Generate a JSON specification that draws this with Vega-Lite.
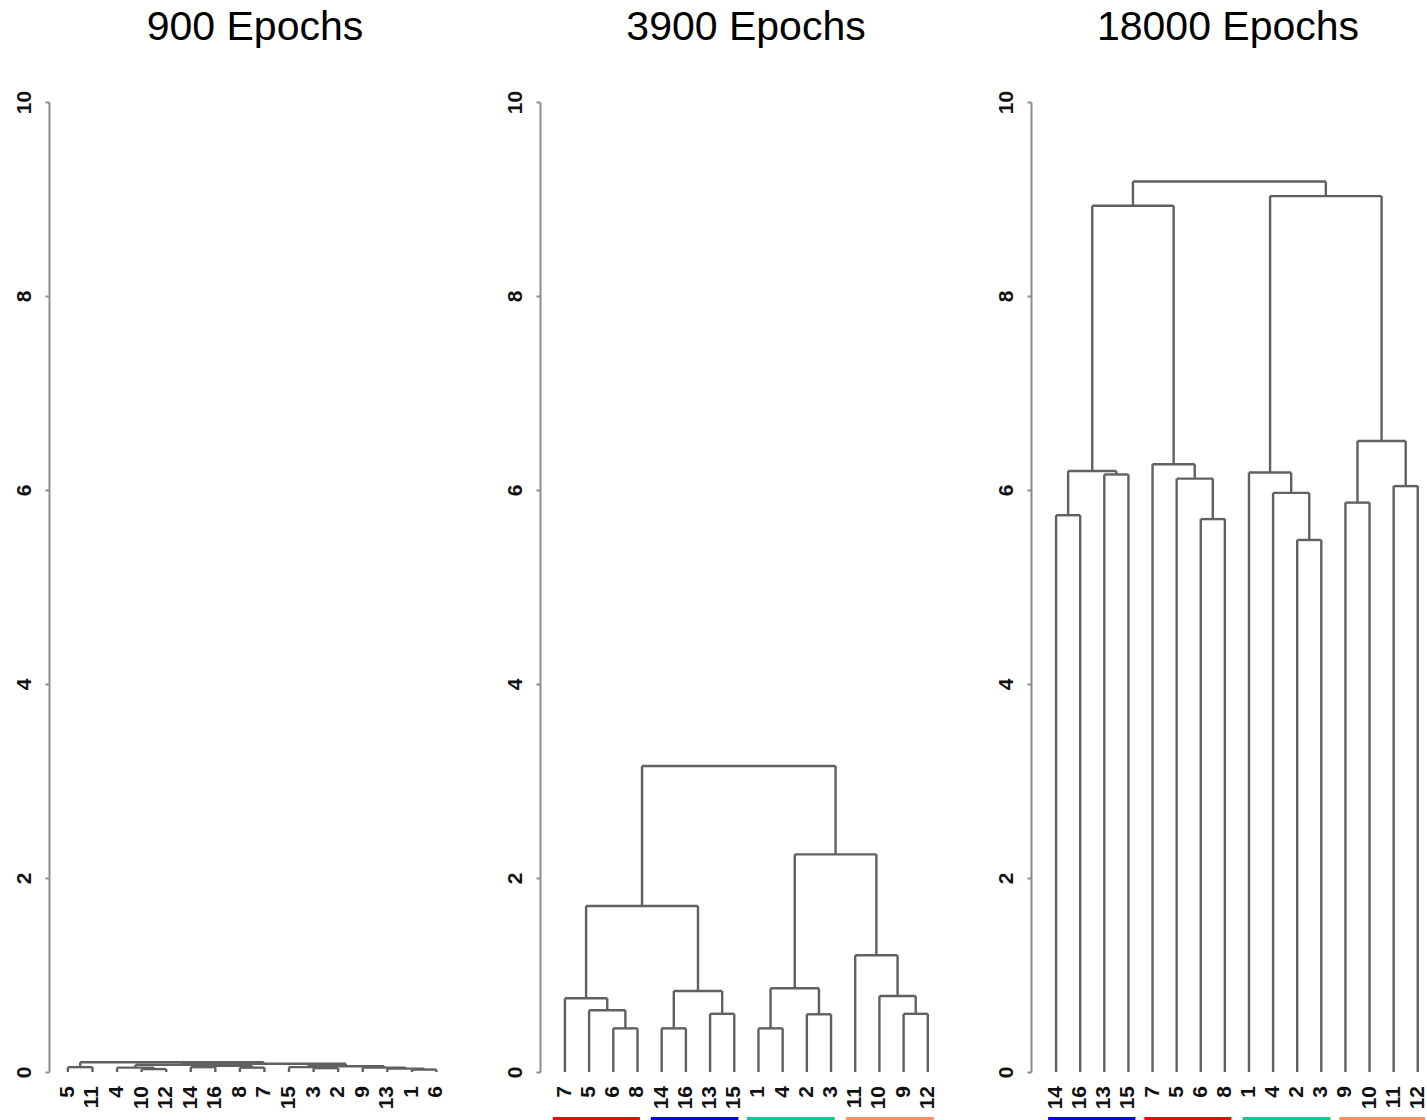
{
  "$schema": "https://vega.github.io/schema/vega-lite/v6.json",
  "background": "white",
  "padding": {"left": 5, "top": 7, "right": 0, "bottom": 0},
  "spacing": 35,
  "config": {
    "view": {"stroke": null},
    "font": "Liberation Sans",
    "axis": {"labelFont": "Liberation Sans"}
  },
  "datasets": {
    "merges": [
      {"panel": 1, "xl": 1, "xr": 2, "hl": 0, "hr": 0, "h": 0.05},
      {"panel": 1, "xl": 4, "xr": 5, "hl": 0, "hr": 0, "h": 0.03},
      {"panel": 1, "xl": 3, "xr": 4.5, "hl": 0, "hr": 0.03, "h": 0.045},
      {"panel": 1, "xl": 6, "xr": 7, "hl": 0, "hr": 0, "h": 0.05},
      {"panel": 1, "xl": 8, "xr": 9, "hl": 0, "hr": 0, "h": 0.045},
      {"panel": 1, "xl": 6.5, "xr": 8.5, "hl": 0.05, "hr": 0.045, "h": 0.065},
      {"panel": 1, "xl": 3.75, "xr": 7.5, "hl": 0.045, "hr": 0.065, "h": 0.075},
      {"panel": 1, "xl": 11, "xr": 12, "hl": 0, "hr": 0, "h": 0.04},
      {"panel": 1, "xl": 10, "xr": 11.5, "hl": 0, "hr": 0.04, "h": 0.05},
      {"panel": 1, "xl": 15, "xr": 16, "hl": 0, "hr": 0, "h": 0.025},
      {"panel": 1, "xl": 14, "xr": 15.5, "hl": 0, "hr": 0.025, "h": 0.035},
      {"panel": 1, "xl": 13, "xr": 14.75, "hl": 0, "hr": 0.035, "h": 0.045},
      {"panel": 1, "xl": 10.75, "xr": 13.875, "hl": 0.05, "hr": 0.045, "h": 0.06},
      {"panel": 1, "xl": 5.625, "xr": 12.3125, "hl": 0.075, "hr": 0.06, "h": 0.085},
      {"panel": 1, "xl": 1.5, "xr": 8.96875, "hl": 0.05, "hr": 0.085, "h": 0.1},

      {"panel": 2, "xl": 3, "xr": 4, "hl": 0, "hr": 0, "h": 0.45},
      {"panel": 2, "xl": 2, "xr": 3.5, "hl": 0, "hr": 0.45, "h": 0.636},
      {"panel": 2, "xl": 1, "xr": 2.75, "hl": 0, "hr": 0.636, "h": 0.76},
      {"panel": 2, "xl": 5, "xr": 6, "hl": 0, "hr": 0, "h": 0.45},
      {"panel": 2, "xl": 7, "xr": 8, "hl": 0, "hr": 0, "h": 0.6},
      {"panel": 2, "xl": 5.5, "xr": 7.5, "hl": 0.45, "hr": 0.6, "h": 0.835},
      {"panel": 2, "xl": 1.875, "xr": 6.5, "hl": 0.76, "hr": 0.835, "h": 1.711},
      {"panel": 2, "xl": 9, "xr": 10, "hl": 0, "hr": 0, "h": 0.45},
      {"panel": 2, "xl": 11, "xr": 12, "hl": 0, "hr": 0, "h": 0.595},
      {"panel": 2, "xl": 9.5, "xr": 11.5, "hl": 0.45, "hr": 0.595, "h": 0.863},
      {"panel": 2, "xl": 15, "xr": 16, "hl": 0, "hr": 0, "h": 0.6},
      {"panel": 2, "xl": 14, "xr": 15.5, "hl": 0, "hr": 0.6, "h": 0.784},
      {"panel": 2, "xl": 13, "xr": 14.75, "hl": 0, "hr": 0.784, "h": 1.203},
      {"panel": 2, "xl": 10.5, "xr": 13.875, "hl": 0.863, "hr": 1.203, "h": 2.244},
      {"panel": 2, "xl": 4.1875, "xr": 12.1875, "hl": 1.711, "hr": 2.244, "h": 3.155},

      {"panel": 3, "xl": 1, "xr": 2, "hl": 0, "hr": 0, "h": 5.74},
      {"panel": 3, "xl": 3, "xr": 4, "hl": 0, "hr": 0, "h": 6.16},
      {"panel": 3, "xl": 1.5, "xr": 3.5, "hl": 5.74, "hr": 6.16, "h": 6.196},
      {"panel": 3, "xl": 7, "xr": 8, "hl": 0, "hr": 0, "h": 5.7},
      {"panel": 3, "xl": 6, "xr": 7.5, "hl": 0, "hr": 5.7, "h": 6.117},
      {"panel": 3, "xl": 5, "xr": 6.75, "hl": 0, "hr": 6.117, "h": 6.265},
      {"panel": 3, "xl": 2.5, "xr": 5.875, "hl": 6.196, "hr": 6.265, "h": 8.93},
      {"panel": 3, "xl": 11, "xr": 12, "hl": 0, "hr": 0, "h": 5.485},
      {"panel": 3, "xl": 10, "xr": 11.5, "hl": 0, "hr": 5.485, "h": 5.97},
      {"panel": 3, "xl": 9, "xr": 10.75, "hl": 0, "hr": 5.97, "h": 6.18},
      {"panel": 3, "xl": 13, "xr": 14, "hl": 0, "hr": 0, "h": 5.87},
      {"panel": 3, "xl": 15, "xr": 16, "hl": 0, "hr": 0, "h": 6.04},
      {"panel": 3, "xl": 13.5, "xr": 15.5, "hl": 5.87, "hr": 6.04, "h": 6.505},
      {"panel": 3, "xl": 9.875, "xr": 14.5, "hl": 6.18, "hr": 6.505, "h": 9.03},
      {"panel": 3, "xl": 4.1875, "xr": 12.1875, "hl": 8.93, "hr": 9.03, "h": 9.18}
    ],
    "leaves": [
      {"panel": 1, "pos": 1, "leaf": "5"}, {"panel": 1, "pos": 2, "leaf": "11"},
      {"panel": 1, "pos": 3, "leaf": "4"}, {"panel": 1, "pos": 4, "leaf": "10"},
      {"panel": 1, "pos": 5, "leaf": "12"}, {"panel": 1, "pos": 6, "leaf": "14"},
      {"panel": 1, "pos": 7, "leaf": "16"}, {"panel": 1, "pos": 8, "leaf": "8"},
      {"panel": 1, "pos": 9, "leaf": "7"}, {"panel": 1, "pos": 10, "leaf": "15"},
      {"panel": 1, "pos": 11, "leaf": "3"}, {"panel": 1, "pos": 12, "leaf": "2"},
      {"panel": 1, "pos": 13, "leaf": "9"}, {"panel": 1, "pos": 14, "leaf": "13"},
      {"panel": 1, "pos": 15, "leaf": "1"}, {"panel": 1, "pos": 16, "leaf": "6"},

      {"panel": 2, "pos": 1, "leaf": "7"}, {"panel": 2, "pos": 2, "leaf": "5"},
      {"panel": 2, "pos": 3, "leaf": "6"}, {"panel": 2, "pos": 4, "leaf": "8"},
      {"panel": 2, "pos": 5, "leaf": "14"}, {"panel": 2, "pos": 6, "leaf": "16"},
      {"panel": 2, "pos": 7, "leaf": "13"}, {"panel": 2, "pos": 8, "leaf": "15"},
      {"panel": 2, "pos": 9, "leaf": "1"}, {"panel": 2, "pos": 10, "leaf": "4"},
      {"panel": 2, "pos": 11, "leaf": "2"}, {"panel": 2, "pos": 12, "leaf": "3"},
      {"panel": 2, "pos": 13, "leaf": "11"}, {"panel": 2, "pos": 14, "leaf": "10"},
      {"panel": 2, "pos": 15, "leaf": "9"}, {"panel": 2, "pos": 16, "leaf": "12"},

      {"panel": 3, "pos": 1, "leaf": "14"}, {"panel": 3, "pos": 2, "leaf": "16"},
      {"panel": 3, "pos": 3, "leaf": "13"}, {"panel": 3, "pos": 4, "leaf": "15"},
      {"panel": 3, "pos": 5, "leaf": "7"}, {"panel": 3, "pos": 6, "leaf": "5"},
      {"panel": 3, "pos": 7, "leaf": "6"}, {"panel": 3, "pos": 8, "leaf": "8"},
      {"panel": 3, "pos": 9, "leaf": "1"}, {"panel": 3, "pos": 10, "leaf": "4"},
      {"panel": 3, "pos": 11, "leaf": "2"}, {"panel": 3, "pos": 12, "leaf": "3"},
      {"panel": 3, "pos": 13, "leaf": "9"}, {"panel": 3, "pos": 14, "leaf": "10"},
      {"panel": 3, "pos": 15, "leaf": "11"}, {"panel": 3, "pos": 16, "leaf": "12"}
    ],
    "groups": [
      {"panel": 2, "start": 0.5, "end": 4.1, "cluster": "5-8"},
      {"panel": 2, "start": 4.55, "end": 8.17, "cluster": "13-16"},
      {"panel": 2, "start": 8.52, "end": 12.15, "cluster": "1-4"},
      {"panel": 2, "start": 12.62, "end": 16.25, "cluster": "9-12"},
      {"panel": 3, "start": 0.67, "end": 4.29, "cluster": "13-16"},
      {"panel": 3, "start": 4.66, "end": 8.27, "cluster": "5-8"},
      {"panel": 3, "start": 8.73, "end": 12.38, "cluster": "1-4"},
      {"panel": 3, "start": 12.75, "end": 16.3, "cluster": "9-12"}
    ]
  },
  "hconcat": [
    {
      "width": 412, "height": 970,
      "title": {"text": "900 Epochs", "fontSize": 41, "font": "Liberation Sans", "fontWeight": "normal", "anchor": "middle", "frame": "group", "baseline": "alphabetic", "offset": 9, "color": "black"},
      "layer": [
        {
          "data": {"name": "merges"}, "transform": [{"filter": "datum.panel == 1"}],
          "mark": {"type": "rule", "color": "#606060", "strokeWidth": 2.4},
          "encoding": {
            "x": {"field": "xl", "type": "quantitative", "scale": {"domain": [0.23, 17], "nice": false, "zero": false}, "axis": null},
            "x2": {"field": "xr"},
            "y": {"field": "h", "type": "quantitative", "scale": {"domain": [0, 10], "nice": false},
              "axis": {"values": [0, 2, 4, 6, 8, 10], "format": "d", "grid": false, "title": null, "domainColor": "#8c8c8c", "domainWidth": 2, "tickColor": "#8c8c8c", "tickWidth": 2, "tickSize": 4, "labelFontSize": 21, "labelFontWeight": "bold", "labelColor": "#111", "labelAngle": -90, "labelAlign": "center", "labelBaseline": "alphabetic", "labelPadding": 15, "minExtent": 44, "maxExtent": 44}}
          }
        },
        {
          "data": {"name": "merges"}, "transform": [{"filter": "datum.panel == 1"}],
          "mark": {"type": "rule", "color": "#606060", "strokeWidth": 2.4},
          "encoding": {"x": {"field": "xl", "type": "quantitative"}, "y": {"field": "hl", "type": "quantitative"}, "y2": {"field": "h"}}
        },
        {
          "data": {"name": "merges"}, "transform": [{"filter": "datum.panel == 1"}],
          "mark": {"type": "rule", "color": "#606060", "strokeWidth": 2.4},
          "encoding": {"x": {"field": "xr", "type": "quantitative"}, "y": {"field": "hr", "type": "quantitative"}, "y2": {"field": "h"}}
        },
        {
          "data": {"name": "leaves"}, "transform": [{"filter": "datum.panel == 1"}],
          "mark": {"type": "text", "angle": 270, "align": "right", "baseline": "middle", "dx": -14, "fontSize": 21, "fontWeight": "bold", "font": "Liberation Sans", "color": "#111"},
          "encoding": {"x": {"field": "pos", "type": "quantitative"}, "y": {"datum": 0, "type": "quantitative"}, "text": {"field": "leaf"}}
        }
      ]
    },
    {
      "width": 412, "height": 970,
      "title": {"text": "3900 Epochs", "fontSize": 41, "font": "Liberation Sans", "fontWeight": "normal", "anchor": "middle", "frame": "group", "baseline": "alphabetic", "offset": 9, "color": "black"},
      "layer": [
        {
          "data": {"name": "merges"}, "transform": [{"filter": "datum.panel == 2"}],
          "mark": {"type": "rule", "color": "#606060", "strokeWidth": 2.4},
          "encoding": {
            "x": {"field": "xl", "type": "quantitative", "scale": {"domain": [-0.03, 17], "nice": false, "zero": false}, "axis": null},
            "x2": {"field": "xr"},
            "y": {"field": "h", "type": "quantitative", "scale": {"domain": [0, 10], "nice": false},
              "axis": {"values": [0, 2, 4, 6, 8, 10], "format": "d", "grid": false, "title": null, "domainColor": "#8c8c8c", "domainWidth": 2, "tickColor": "#8c8c8c", "tickWidth": 2, "tickSize": 4, "labelFontSize": 21, "labelFontWeight": "bold", "labelColor": "#111", "labelAngle": -90, "labelAlign": "center", "labelBaseline": "alphabetic", "labelPadding": 15, "minExtent": 44, "maxExtent": 44}}
          }
        },
        {
          "data": {"name": "merges"}, "transform": [{"filter": "datum.panel == 2"}],
          "mark": {"type": "rule", "color": "#606060", "strokeWidth": 2.4},
          "encoding": {"x": {"field": "xl", "type": "quantitative"}, "y": {"field": "hl", "type": "quantitative"}, "y2": {"field": "h"}}
        },
        {
          "data": {"name": "merges"}, "transform": [{"filter": "datum.panel == 2"}],
          "mark": {"type": "rule", "color": "#606060", "strokeWidth": 2.4},
          "encoding": {"x": {"field": "xr", "type": "quantitative"}, "y": {"field": "hr", "type": "quantitative"}, "y2": {"field": "h"}}
        },
        {
          "data": {"name": "leaves"}, "transform": [{"filter": "datum.panel == 2"}],
          "mark": {"type": "text", "angle": 270, "align": "right", "baseline": "middle", "dx": -14, "fontSize": 21, "fontWeight": "bold", "font": "Liberation Sans", "color": "#111"},
          "encoding": {"x": {"field": "pos", "type": "quantitative"}, "y": {"datum": 0, "type": "quantitative"}, "text": {"field": "leaf"}}
        },
        {
          "data": {"name": "groups"}, "transform": [{"filter": "datum.panel == 2"}],
          "mark": {"type": "rect"},
          "encoding": {
            "x": {"field": "start", "type": "quantitative"}, "x2": {"field": "end"},
            "y": {"datum": -0.465, "type": "quantitative"}, "y2": {"datum": -0.505},
            "color": {"field": "cluster", "type": "nominal", "scale": {"domain": ["1-4", "5-8", "9-12", "13-16"], "range": ["#17c597", "#ff0000", "#fc9060", "#0000ff"]}, "legend": null}
          }
        }
      ]
    },
    {
      "width": 394, "height": 970,
      "title": {"text": "18000 Epochs", "fontSize": 41, "font": "Liberation Sans", "fontWeight": "normal", "anchor": "middle", "frame": "group", "baseline": "alphabetic", "offset": 9, "color": "black"},
      "layer": [
        {
          "data": {"name": "merges"}, "transform": [{"filter": "datum.panel == 3"}],
          "mark": {"type": "rule", "color": "#606060", "strokeWidth": 2.4},
          "encoding": {
            "x": {"field": "xl", "type": "quantitative", "scale": {"domain": [-0.04, 16.3], "nice": false, "zero": false}, "axis": null},
            "x2": {"field": "xr"},
            "y": {"field": "h", "type": "quantitative", "scale": {"domain": [0, 10], "nice": false},
              "axis": {"values": [0, 2, 4, 6, 8, 10], "format": "d", "grid": false, "title": null, "domainColor": "#8c8c8c", "domainWidth": 2, "tickColor": "#8c8c8c", "tickWidth": 2, "tickSize": 4, "labelFontSize": 21, "labelFontWeight": "bold", "labelColor": "#111", "labelAngle": -90, "labelAlign": "center", "labelBaseline": "alphabetic", "labelPadding": 15, "minExtent": 44, "maxExtent": 44}}
          }
        },
        {
          "data": {"name": "merges"}, "transform": [{"filter": "datum.panel == 3"}],
          "mark": {"type": "rule", "color": "#606060", "strokeWidth": 2.4},
          "encoding": {"x": {"field": "xl", "type": "quantitative"}, "y": {"field": "hl", "type": "quantitative"}, "y2": {"field": "h"}}
        },
        {
          "data": {"name": "merges"}, "transform": [{"filter": "datum.panel == 3"}],
          "mark": {"type": "rule", "color": "#606060", "strokeWidth": 2.4},
          "encoding": {"x": {"field": "xr", "type": "quantitative"}, "y": {"field": "hr", "type": "quantitative"}, "y2": {"field": "h"}}
        },
        {
          "data": {"name": "leaves"}, "transform": [{"filter": "datum.panel == 3"}],
          "mark": {"type": "text", "angle": 270, "align": "right", "baseline": "middle", "dx": -14, "fontSize": 21, "fontWeight": "bold", "font": "Liberation Sans", "color": "#111"},
          "encoding": {"x": {"field": "pos", "type": "quantitative"}, "y": {"datum": 0, "type": "quantitative"}, "text": {"field": "leaf"}}
        },
        {
          "data": {"name": "groups"}, "transform": [{"filter": "datum.panel == 3"}],
          "mark": {"type": "rect"},
          "encoding": {
            "x": {"field": "start", "type": "quantitative"}, "x2": {"field": "end"},
            "y": {"datum": -0.465, "type": "quantitative"}, "y2": {"datum": -0.505},
            "color": {"field": "cluster", "type": "nominal", "scale": {"domain": ["1-4", "5-8", "9-12", "13-16"], "range": ["#17c597", "#ff0000", "#fc9060", "#0000ff"]}, "legend": null}
          }
        }
      ]
    }
  ]
}
